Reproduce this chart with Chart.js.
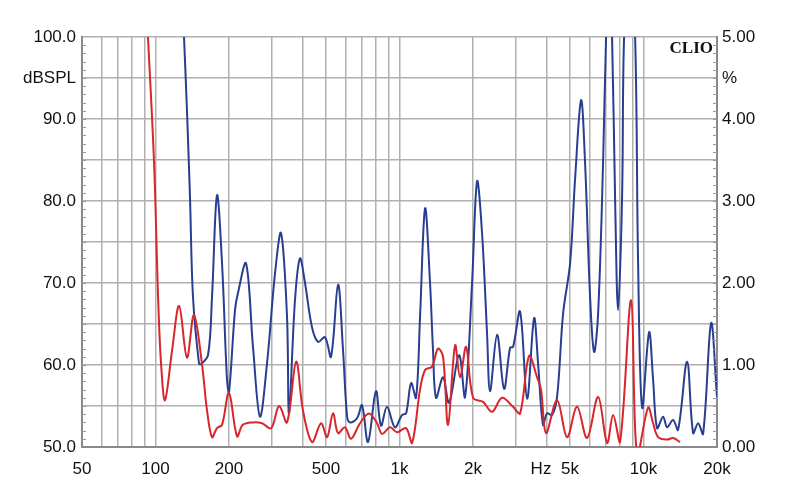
<!DOCTYPE html>
<html>
<head>
<meta charset="utf-8">
<script src="https://cdn.jsdelivr.net/npm/chart.js@4.4.1/dist/chart.umd.min.js"></script>
<style>
  html, body { margin: 0; padding: 0; background: #fff; }
  #wrap { width: 800px; height: 504px; }
</style>
</head>
<body>
<div id="wrap"><canvas id="c" width="800" height="504"></canvas></div>
<script>
// distortion curves, values in % (right axis)
const freqRed = [93, 98.7, 102.5, 105.4, 109.4, 117, 125, 134.6, 143.8, 155, 162.6, 170.5, 178.7, 187.4, 200, 216, 228, 251, 273, 298, 321, 346, 377, 402, 438, 477, 505, 534, 560, 598, 633, 689, 750, 809, 848, 915, 977, 1064, 1126, 1214, 1273, 1359, 1438, 1508, 1581, 1690, 1771, 1875, 2002, 2200, 2395, 2632, 2920, 3120, 3396, 3663, 3802, 3987, 4423, 4860, 5340, 5870, 6515, 7090, 7504, 8015, 8891, 9408, 10440, 10945, 11475, 12490, 13215, 14115];
const distRed = [5.05, 3.46, 1.83, 1.02, 0.57, 1.18, 1.72, 1.09, 1.61, 1.02, 0.45, 0.12, 0.23, 0.27, 0.66, 0.13, 0.27, 0.30, 0.29, 0.23, 0.50, 0.30, 1.04, 0.45, 0.06, 0.29, 0.12, 0.41, 0.17, 0.24, 0.10, 0.29, 0.41, 0.29, 0.16, 0.24, 0.18, 0.23, 0.05, 0.70, 0.94, 0.98, 1.20, 1.10, 0.27, 1.24, 0.85, 1.22, 0.60, 0.55, 0.43, 0.60, 0.49, 0.41, 1.11, 0.85, 0.70, 0.17, 0.57, 0.12, 0.49, 0.11, 0.61, 0.05, 0.39, 0.06, 1.79, -0.10, 0.48, 0.29, 0.12, 0.09, 0.11, 0.06];

const freqBlue = [130.3, 134.6, 138.5, 142.5, 150.8, 153.7, 164.2, 170.5, 178.7, 187.4, 196.4, 200.2, 211.8, 217.9, 235, 251, 268, 286.5, 309, 327, 346, 352.6, 373, 391, 410, 438, 464, 495, 524, 560, 587, 610, 627, 670, 702, 743, 801, 840, 889, 958, 1024, 1064, 1116, 1169, 1214, 1273, 1334, 1372, 1412, 1508, 1596, 1754, 1856, 1983, 2079, 2179, 2284, 2350, 2511, 2682, 2839, 2920, 3120, 3333, 3560, 3697, 3874, 4024, 4219, 4423, 4682, 5000, 5240, 5547, 5761, 6039, 6271, 6515, 6826, 7022, 7223, 7430, 7644, 7863, 8167, 8323, 8766, 9236, 9500, 9867, 10540, 10945, 11365, 12025, 12490, 13215, 13855, 15080, 15965, 16735, 17545, 18920, 20000];
const distBlue = [5.15, 4.11, 3.05, 1.83, 1.02, 1.01, 1.12, 1.83, 3.07, 2.24, 0.82, 0.67, 1.67, 1.88, 2.24, 1.22, 0.37, 1.02, 2.12, 2.61, 1.59, 0.41, 1.79, 2.30, 2.00, 1.46, 1.28, 1.34, 1.10, 1.98, 1.18, 0.37, 0.30, 0.35, 0.51, 0.06, 0.68, 0.26, 0.49, 0.24, 0.39, 0.41, 0.78, 0.60, 1.59, 2.91, 2.00, 1.18, 0.60, 0.85, 0.54, 1.12, 0.61, 2.00, 3.24, 2.61, 1.39, 0.68, 1.37, 0.71, 1.21, 1.22, 1.65, 0.59, 1.57, 1.02, 0.27, 0.41, 0.39, 0.61, 1.63, 2.24, 3.26, 4.23, 3.46, 1.83, 1.16, 1.63, 3.46, 5.00, 5.80, 5.00, 3.05, 1.67, 3.05, 5.00, 6.00, 5.00, 2.24, 0.48, 1.40, 0.82, 0.23, 0.37, 0.24, 0.33, 0.21, 1.04, 0.17, 0.29, 0.16, 1.51, 0.61];

// x axis: grid at 1-2-3..9 steps, labels only on some, plus the "Hz" marker
const gridFreqs = [50, 60, 70, 80, 90, 100, 200, 300, 400, 500, 600, 700, 800, 900, 1000, 2000, 3000, 4000, 5000, 6000, 7000, 8000, 9000, 10000, 20000];
const freqLabels = {50: '50', 100: '100', 200: '200', 500: '500', 1000: '1k', 2000: '2k', 3800: 'Hz', 5000: '5k', 10000: '10k', 20000: '20k'};
const hzPos = 3800;

const toPoints = (xs, ys) => xs.map((f, i) => ({x: f, y: ys[i]}));

const textFont = {family: 'Arimo, "Liberation Sans", Arial, sans-serif', size: 17};

const clioPlugin = {
  id: 'clio',
  afterDatasetsDraw(chart) {
    const {ctx, chartArea, scales} = chart;
    ctx.save();
    // small minor ticks along left and right edges, every 1 dB
    ctx.strokeStyle = '#9a9a9a';
    ctx.lineWidth = 1;
    for (let v = 51; v < 100; v++) {
      const y = Math.round(scales.y.getPixelForValue(v)) + 0.5;
      ctx.beginPath();
      ctx.moveTo(chartArea.left, y); ctx.lineTo(chartArea.left + 4, y);
      ctx.moveTo(chartArea.right - 4, y); ctx.lineTo(chartArea.right, y);
      ctx.stroke();
    }
    ctx.fillStyle = '#111';
    ctx.font = 'bold 17px "Liberation Serif", "Times New Roman", serif';
    ctx.textAlign = 'right';
    ctx.textBaseline = 'alphabetic';
    ctx.fillText('CLIO', chartArea.right - 4, chartArea.top + 16);
    ctx.restore();
  }
};

new Chart(document.getElementById('c'), {
  type: 'line',
  data: {
    datasets: [
      {
        data: toPoints(freqRed, distRed),
        borderColor: '#d7262c',
        borderWidth: 2,
        pointRadius: 0,
        tension: 0.35,
        yAxisID: 'y2'
      },
      {
        data: toPoints(freqBlue, distBlue),
        borderColor: '#283f91',
        borderWidth: 2,
        pointRadius: 0,
        tension: 0.35,
        yAxisID: 'y2'
      }
    ]
  },
  options: {
    responsive: false,
    animation: false,
    layout: {padding: {top: 37, left: 0, right: 0, bottom: 0}},
    plugins: {legend: {display: false}, tooltip: {enabled: false}},
    scales: {
      x: {
        type: 'logarithmic',
        min: 50,
        max: 20000,
        afterBuildTicks(scale) {
          const vals = gridFreqs.concat([hzPos]).sort((a, b) => a - b);
          scale.ticks = vals.map(v => ({value: v}));
        },
        afterFit(scale) { scale.height = 57; },
        ticks: {
          autoSkip: false,
          maxRotation: 0,
          padding: 12,
          color: '#111',
          font: textFont,
          callback: (v) => freqLabels[v] || ''
        },
        grid: {
          drawTicks: false,
          lineWidth: 1.5,
          color: (ctx) => (ctx.tick && ctx.tick.value === hzPos) ? 'rgba(0,0,0,0)' : '#b0b0b0'
        },
        border: {display: true, color: '#8a8a8a', width: 2}
      },
      y: {
        position: 'left',
        min: 50,
        max: 100,
        afterBuildTicks(scale) {
          const t = [];
          for (let v = 50; v <= 100; v += 5) t.push({value: v});
          scale.ticks = t;
        },
        afterFit(scale) { scale.width = 82; },
        ticks: {
          padding: 6,
          color: '#111',
          font: textFont,
          callback: (v) => v % 10 === 0 ? v.toFixed(1) : (v === 95 ? 'dBSPL' : '')
        },
        grid: {drawTicks: false, lineWidth: 1.5, color: '#b0b0b0'},
        border: {display: true, color: '#8a8a8a', width: 2}
      },
      y2: {
        position: 'right',
        min: 0,
        max: 5,
        afterBuildTicks(scale) {
          const t = [];
          for (let v = 0; v <= 10; v++) t.push({value: v / 2});
          scale.ticks = t;
        },
        afterFit(scale) { scale.width = 83; },
        ticks: {
          padding: 5,
          color: '#111',
          font: textFont,
          callback: (v) => Number.isInteger(v) ? v.toFixed(2) : (v === 4.5 ? '%' : '')
        },
        grid: {display: false, drawTicks: false},
        border: {display: true, color: '#8a8a8a', width: 2}
      }
    }
  },
  plugins: [clioPlugin]
});
</script>
</body>
</html>
